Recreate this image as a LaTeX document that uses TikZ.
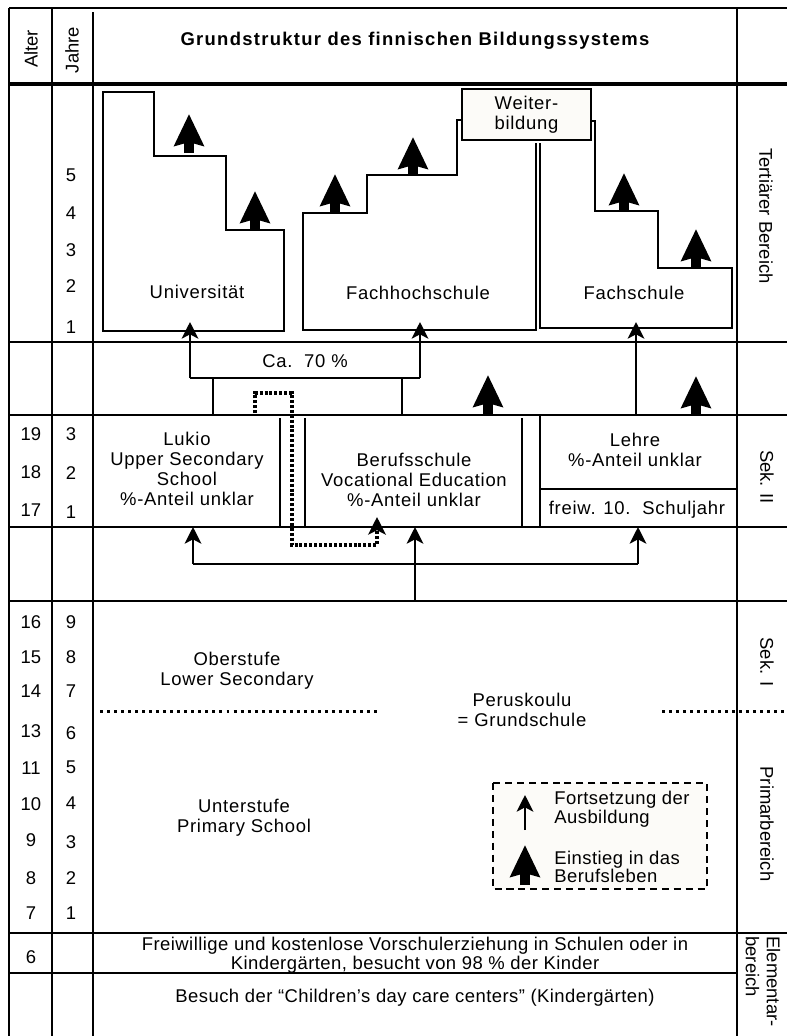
\documentclass[tikz,border=0pt]{standalone}
\usepackage{fontspec}
\setmainfont{Liberation Sans}
\newfontfamily\spaced[LetterSpace=4]{Liberation Sans}
\newfontfamily\lightspaced[LetterSpace=2.5]{Liberation Sans}
\newfontfamily\titlefont[LetterSpace=7]{Liberation Sans}
\usetikzlibrary{arrows.meta}
\definecolor{paper}{RGB}{252,251,248}
\tikzset{
  grid/.style={line width=1.4pt},
  outline/.style={line width=1.2pt},
  goon/.style={line width=1.2pt,-{Stealth[length=9.5pt,width=9.5pt,inset=2.5pt]}},
  jobexit/.style={line width=5.3pt,-{Stealth[length=18pt,width=16.5pt,inset=2pt]}},
  dotpath/.style={line width=2pt,dash pattern=on 1.7pt off 1.1pt,-{Stealth[length=10pt,width=10pt,inset=2.5pt]}},
  dotrow/.style={line width=1.7pt,dash pattern=on 1.7pt off 2.3pt},
  lbl/.style={font=\spaced\fontsize{10.5}{11.3}\selectfont,align=center,inner sep=0pt},
  num/.style={font=\fontsize{10.5}{11}\selectfont,inner sep=0pt},
  side/.style={num,rotate=-90}
}
\begin{document}
\begin{tikzpicture}[x=0.02cm,y=-0.02cm]
  \useasboundingbox (0,0) rectangle (787,1036);
  % frame
  \draw[grid] (9,8) -- (787,8);
  \draw[line width=1.8pt] (9,84) -- (787,84);
  \foreach \yy in {342,415,527,601,933}
    \draw[grid] (9,\yy) -- (787,\yy);
  \draw[grid] (9,973) -- (737,973);
  \foreach \xx in {9,52,737}
    \draw[grid] (\xx,8) -- (\xx,1036);
  \draw[line width=1.6pt] (93,12) -- (93,1036);
  % header
  \node[font=\titlefont\bfseries\fontsize{10.5}{11}\selectfont,inner sep=0pt] (title) at (415,41) {Grundstruktur des finnischen Bildungssystems};
  \node[num,rotate=90] (alter) at (31,49) {Alter};
  \node[num,rotate=90] (jahre) at (72,50) {Jahre};
  % years
  \foreach \n/\yy in {5/175,4/213,3/250,2/286,1/327}
    \node[num] (ter\n) at (71,\yy) {\n};
  \foreach \a/\yy in {19/434,18/472,17/510,16/622,15/657,14/691,13/731,11/768,10/804,9/840,8/878,7/913,6/957}
    \node[num] (age\a) at (31,\yy) {\a};
  \foreach \n/\yy in {3/434,2/473,1/512}
    \node[num] (sek\n) at (71,\yy) {\n};
  \foreach \n/\yy in {9/622,8/657,7/691,6/733,5/767,4/803,3/842,2/878,1/913}
    \node[num] (pk\n) at (71,\yy) {\n};
  % tertiary
  \draw[outline] (103,92) -- (154,92) -- (154,156) -- (226,156) -- (226,230) -- (284,230) -- (284,331) -- (103,331) -- cycle;
  \draw[outline] (462,120) -- (457,120) -- (457,175) -- (367,175) -- (367,213) -- (303,213) -- (303,330) -- (536,330) -- (536,143);
  \draw[outline] (591,121) -- (595,121) -- (595,211) -- (658,211) -- (658,268) -- (732,268) -- (732,328) -- (540,328) -- (540,143);
  \node[draw,outline,fill=paper,lbl,minimum width=2.58cm,minimum height=1.02cm] (weiter) at (526.5,114.5) {Weiter-\\bildung};
  \node[lbl] (uni) at (197,292) {Universität};
  \node[lbl] (fh) at (418,293) {Fachhochschule};
  \node[lbl] (fs) at (634,293) {Fachschule};
  \node[side] (tert) at (766,216) {Tertiärer Bereich};
  % job exits
  \foreach \xx/\yb/\yt in {189/153/114,255/230/191,335/213/174,413/175/137,624/211/173,696/268/229,488/414/375,696/414/376}
    \draw[jobexit] (\xx,\yb) -- (\xx,\yt);
  % ca. 70 %
  \coordinate (uni-in) at (190,322);
  \coordinate (fh-in) at (420,322);
  \coordinate (fs-in) at (636,322);
  \draw[outline] (190,378) -- (420,378);
  \draw[goon] (190,378) -- (uni-in);
  \draw[goon] (420,378) -- (fh-in);
  \draw[goon] (636,415) -- (fs-in);
  \draw[outline] (213,378) -- (213,415);
  \draw[outline] (402,378) -- (402,415);
  \node[lbl] (ca) at (305,361) {Ca.\ \ 70 \%};
  % sek II
  \draw[grid] (280,418) -- (280,527);
  \draw[grid] (305,418) -- (305,527);
  \draw[grid] (522,418) -- (522,527);
  \draw[grid] (540,415) -- (540,527);
  \draw[grid] (540,489) -- (737,489);
  \node[lbl] (lukio) at (187,469) {Lukio\\Upper Secondary\\School\\\%-Anteil unklar};
  \node[lbl] (beruf) at (414,480) {Berufsschule\\Vocational Education\\\%-Anteil unklar};
  \node[lbl] (lehre) at (635,450) {Lehre\\\%-Anteil unklar};
  \node[lbl] (freiw) at (637,510) {freiw. 10.\ \ Schuljahr};
  \node[side] (sek2) at (767,477) {Sek. II};
  \draw[dotpath] (255,413) -- (255,393) -- (292,393) -- (292,545) -- (377,545) -- (377,517);
  % distribution
  \coordinate (lukio-in) at (193,527);
  \coordinate (beruf-in) at (415,527);
  \coordinate (lehre-in) at (638,527);
  \draw[outline] (193,564) -- (638,564);
  \draw[goon] (193,564) -- (lukio-in);
  \draw[goon] (638,564) -- (lehre-in);
  \draw[goon] (415,601) -- (beruf-in);
  % peruskoulu
  \draw[dotrow] (100,711) -- (380,711);
  \draw[dotrow] (662,711) -- (787,711);
  \node[lbl] (ober) at (237,671) {Oberstufe\\Lower Secondary};
  \node[lbl] (perus) at (522,710) {Peruskoulu\\= Grundschule};
  \node[lbl] (unter) at (244,818) {Unterstufe\\Primary School};
  \node[side] (sek1) at (767,662) {Sek. I};
  \node[side] (prim) at (767,824) {Primarbereich};
  % legend
  \draw[line width=1.1pt,dash pattern=on 4pt off 2.8pt,fill=paper] (493,783) rectangle (707,889);
  \draw[goon] (525,830) -- (525,795);
  \draw[jobexit] (525,885) -- (525,845);
  \node[lbl,anchor=west,align=left,font=\lightspaced\fontsize{10.5}{10.5}\selectfont] (leg-a) at (554,809) {Fortsetzung der\\Ausbildung};
  \node[lbl,anchor=west,align=left,font=\lightspaced\fontsize{10.5}{10.5}\selectfont] (leg-b) at (554,867) {Einstieg in das\\Berufsleben};
  % elementar
  \node[lbl,font=\lightspaced\fontsize{10.5}{9.5}\selectfont] (vor) at (415,955) {Freiwillige und kostenlose Vorschulerziehung in Schulen oder in\\Kindergärten, besucht von 98 \% der Kinder};
  \node[lbl,font=\lightspaced\fontsize{10.5}{11}\selectfont] (kita) at (415,998) {Besuch der “Children’s day care centers” (Kindergärten)};
  \node[side,align=left,anchor=west,font=\fontsize{10.5}{12}\selectfont] (elem) at (763,936) {Elementar-\\bereich};
\end{tikzpicture}
\end{document}
